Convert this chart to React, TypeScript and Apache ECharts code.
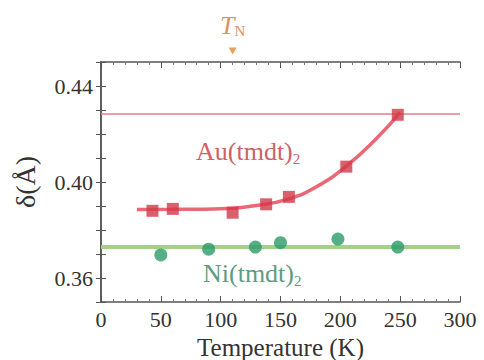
import React, { useEffect, useRef } from "react";
import * as echarts from "echarts";

const auTemps = [43, 60, 110, 138, 157, 205, 248];
const auDelta = [0.388, 0.3888, 0.3872, 0.3907, 0.3938, 0.4064, 0.428];
const niTemps = [50, 90, 129, 150, 198, 248];
const niDelta = [0.3696, 0.372, 0.3729, 0.3747, 0.3762, 0.3729];
const fitTemps = [30, 60, 100, 130, 157, 180, 205, 230, 250];
const fitDelta = [0.3885, 0.3886, 0.3889, 0.3902, 0.393, 0.398, 0.4066, 0.418, 0.429];
const auLevel = 0.4283;
const niLevel = 0.3729;
const tnTemp = 110;
const xTicks = [0, 50, 100, 150, 200, 250, 300];
const yLabels = [0.36, 0.4, 0.44];

const SERIF = "'Liberation Serif', serif";

export default function App() {
  const ref = useRef<HTMLDivElement>(null);
  useEffect(() => {
    if (!ref.current) return;
    const chart = echarts.init(ref.current, null, { renderer: "svg" });
    const axisLine = { show: true, lineStyle: { color: "#555", width: 1.5 } };
    const xMin = xTicks[0];
    const xMax = xTicks[xTicks.length - 1];
    chart.setOption({
      animation: false,
      backgroundColor: "#fff",
      grid: { left: 101, right: 24, top: 62, bottom: 58, containLabel: false, outerBoundsMode: "none" },
      xAxis: [
        {
          type: "value",
          min: xMin,
          max: xMax,
          interval: 50,
          name: "Temperature (K)",
          nameLocation: "middle",
          nameGap: 29,
          nameTextStyle: { fontFamily: SERIF, fontSize: 25, lineHeight: 25, color: "#333" },
          axisLine,
          axisTick: { inside: true, length: 6, lineStyle: { color: "#555" } },
          minorTick: { show: true, splitNumber: 5, length: 3, lineStyle: { color: "#777" } },
          axisLabel: { fontFamily: SERIF, fontSize: 22, color: "#333", margin: 6 },
          splitLine: { show: false },
        },
        {
          type: "value",
          position: "top",
          min: xMin,
          max: xMax,
          interval: 50,
          axisLine,
          axisTick: { inside: true, length: 6, lineStyle: { color: "#555" } },
          minorTick: { show: true, splitNumber: 5, length: 3, lineStyle: { color: "#777" } },
          axisLabel: { show: false },
          splitLine: { show: false },
        },
      ],
      yAxis: [
        {
          type: "value",
          min: 0.35,
          max: 0.45,
          interval: 0.01,
          name: "δ(Å)",
          nameLocation: "middle",
          nameGap: 62,
          nameRotate: 90,
          nameTextStyle: { fontFamily: SERIF, fontSize: 28, color: "#333" },
          axisLine,
          axisTick: { inside: true, length: 5, lineStyle: { color: "#555" } },
          axisLabel: {
            customValues: yLabels,
            fontFamily: SERIF,
            fontSize: 22,
            color: "#333",
            margin: 8,
            formatter: (v: number) => v.toFixed(2),
          },
          splitLine: { show: false },
        },
        {
          type: "value",
          position: "right",
          min: 0.35,
          max: 0.45,
          interval: 0.01,
          axisLine,
          axisTick: { inside: true, length: 5, lineStyle: { color: "#555" } },
          axisLabel: { show: false },
          splitLine: { show: false },
        },
      ],
      series: [
        {
          type: "line",
          data: [[xMin, auLevel], [xMax, auLevel]],
          showSymbol: false,
          silent: true,
          lineStyle: { color: "#e87a8c", width: 1.5 },
          z: 1,
        },
        {
          type: "line",
          data: [[xMin, niLevel], [xMax, niLevel]],
          showSymbol: false,
          silent: true,
          lineStyle: { color: "#a4d08e", width: 4 },
          z: 1,
          markPoint: {
            silent: true,
            data: [
              {
                coord: [tnTemp, 0.45],
                symbol: "triangle",
                symbolRotate: 180,
                symbolSize: [8, 7],
                symbolOffset: [0, -11],
                itemStyle: { color: "#e8a060" },
                label: {
                  show: true,
                  position: "top",
                  distance: 9,
                  formatter: "{t|T}{n|N}",
                  rich: {
                    t: { fontFamily: SERIF, fontStyle: "italic", fontSize: 26, color: "#e0905a" },
                    n: { fontFamily: SERIF, fontSize: 15, color: "#e0905a", verticalAlign: "bottom", padding: [12, 0, 0, 0] },
                  },
                },
              },
            ],
          },
        },
        {
          type: "line",
          data: fitTemps.map((t, i) => [t, fitDelta[i]]),
          smooth: true,
          showSymbol: false,
          lineStyle: { color: "#e86876", width: 3.5 },
          z: 3,
        },
        {
          type: "scatter",
          data: auTemps.map((t, i) => [t, auDelta[i]]),
          symbol: "rect",
          symbolSize: 12,
          itemStyle: { color: "#d23848" },
          z: 4,
        },
        {
          type: "scatter",
          data: niTemps.map((t, i) => [t, niDelta[i]]),
          symbol: "circle",
          symbolSize: 13,
          itemStyle: { color: "#2a9a68" },
          z: 4,
        },
      ],
      graphic: [
        {
          type: "text",
          left: 196,
          top: 138,
          style: {
            text: "{a|Au(tmdt)}{s|2}",
            rich: {
              a: { fontFamily: SERIF, fontSize: 26, fill: "#cf6068" },
              s: { fontFamily: SERIF, fontSize: 15, fill: "#cf6068", padding: [16, 0, 0, 0] },
            },
          },
        },
        {
          type: "text",
          left: 203,
          top: 260,
          style: {
            text: "{a|Ni(tmdt)}{s|2}",
            rich: {
              a: { fontFamily: SERIF, fontSize: 26, fill: "#5c9c82" },
              s: { fontFamily: SERIF, fontSize: 15, fill: "#5c9c82", padding: [16, 0, 0, 0] },
            },
          },
        },
      ],
    });
    return () => chart.dispose();
  }, []);
  return <div ref={ref} style={{ width: 484, height: 360, position: "absolute", left: 0, top: 0 }} />;
}
